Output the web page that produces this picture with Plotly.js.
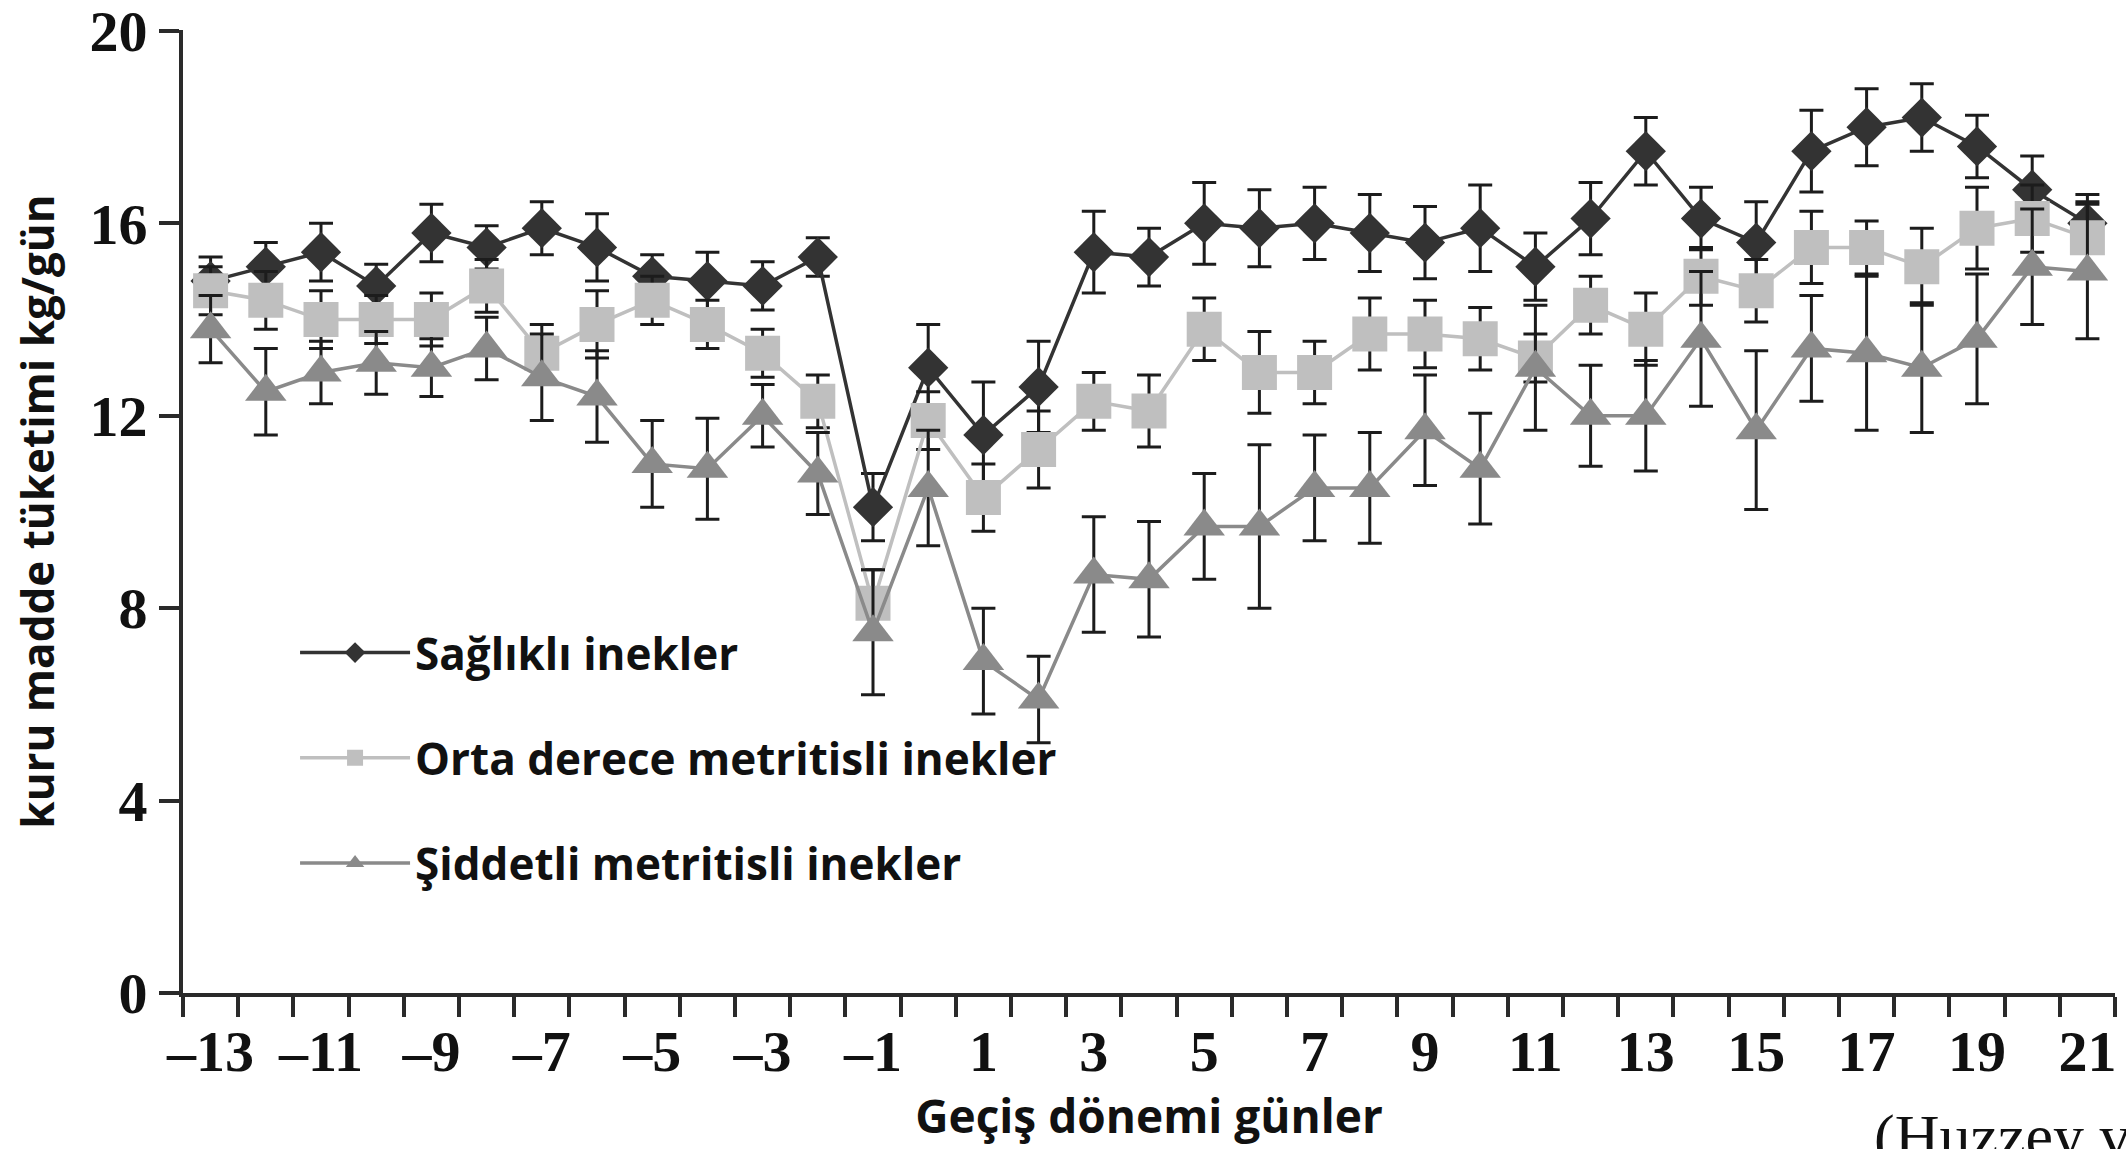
<!DOCTYPE html>
<html>
<head>
<meta charset="utf-8">
<script src="https://cdn.plot.ly/plotly-3.0.1.min.js"></script>
<style>
html,body{margin:0;padding:0;background:#ffffff;}
#chart{width:2126px;height:1149px;}
</style>
</head>
<body>
<div id="chart"></div>
<script>
// Geçiş dönemi günleri (days relative to calving)
const days = [-13,-12,-11,-10,-9,-8,-7,-6,-5,-4,-3,-2,-1,0,1,2,3,4,5,6,7,8,9,10,11,12,13,14,15,16,17,18,19,20,21];

// Sağlıklı inekler (mean, SE)
const healthy    = [14.8,15.1,15.4,14.7,15.8,15.5,15.9,15.5,14.9,14.8,14.7,15.3,10.1,13.0,11.6,12.6,15.4,15.3,16.0,15.9,16.0,15.8,15.6,15.9,15.1,16.1,17.5,16.1,15.6,17.5,18.0,18.2,17.6,16.7,16.0];
const healthyErr = [0.5,0.5,0.6,0.45,0.6,0.45,0.55,0.7,0.45,0.6,0.5,0.4,0.7,0.9,1.1,0.95,0.85,0.6,0.85,0.8,0.75,0.8,0.75,0.9,0.7,0.75,0.7,0.65,0.85,0.85,0.8,0.7,0.65,0.7,0.6];

// Orta derece metritisli inekler
const moderate    = [14.6,14.4,14.0,14.0,14.0,14.7,13.3,13.9,14.4,13.9,13.3,12.3,8.1,11.9,10.3,11.3,12.3,12.1,13.8,12.9,12.9,13.7,13.7,13.6,13.2,14.3,13.8,14.9,14.6,15.5,15.5,15.1,15.9,16.1,15.7];
const moderateErr = [0.5,0.6,0.6,0.5,0.55,0.55,0.6,0.7,0.5,0.5,0.5,0.55,0.7,0.6,0.7,0.8,0.6,0.75,0.65,0.85,0.65,0.75,0.7,0.65,0.5,0.6,0.75,0.6,0.65,0.75,0.55,0.8,0.85,0.7,0.75];

// Şiddetli metritisli inekler
const severe    = [13.8,12.5,12.9,13.1,13.0,13.4,12.8,12.4,11.0,10.9,12.0,10.8,7.5,10.5,6.9,6.1,8.7,8.6,9.7,9.7,10.5,10.5,11.7,10.9,13.0,12.0,12.0,13.6,11.7,13.4,13.3,13.0,13.6,15.1,15.0];
const severeErr = [0.7,0.9,0.65,0.65,0.6,0.65,0.9,0.95,0.9,1.05,0.65,0.85,1.3,1.2,1.1,0.9,1.2,1.2,1.1,1.7,1.1,1.15,1.15,1.15,1.3,1.05,1.15,1.4,1.65,1.1,1.6,1.35,1.35,1.2,1.4];

const seriesNames = ['Sağlıklı inekler','Orta derece metritisli inekler','Şiddetli metritisli inekler'];

const xTickDays   = [-13,-11,-9,-7,-5,-3,-1,1,3,5,7,9,11,13,15,17,19,21];
const xTickLabels = ['\u201313','\u201311','\u20139','\u20137','\u20135','\u20133','\u20131','1','3','5','7','9','11','13','15','17','19','21'];
const yTicks = [0,4,8,12,16,20];
const yTickLabels = ['0','4','8','12','16','20'];

const xTitle = 'Geçiş dönemi günler';
const yTitle = 'kuru madde tüketimi kg/gün';
const sourceNote = '(Huzzey ve ark., 2007)';

function makeTrace(name, yVals, errVals, color, symbol, size, group) {
  return {
    type: 'scatter',
    mode: 'lines+markers',
    name: name,
    legendgroup: group,
    x: days,
    y: yVals,
    line: {color: color, width: 3.5},
    marker: {symbol: symbol, size: size, color: color, line: {width: 0}},
    error_y: {type: 'data', array: errVals, visible: true, color: '#1c1c1c', thickness: 3, width: 12},
    cliponaxis: false,
    hoverinfo: 'skip'
  };
}

const traces = [
  makeTrace(seriesNames[0], healthy, healthyErr, '#333333', 'diamond', 31, 'g1'),
  makeTrace(seriesNames[1], moderate, moderateErr, '#bfbfbf', 'square', 35, 'g2'),
  makeTrace(seriesNames[2], severe, severeErr, '#8a8a8a', 'triangle-up', 36, 'g3')
];

const axisColor = '#2a2a2a';
const tickFont = {family: 'Liberation Serif', size: 58, color: '#111111', weight: 700};
const titleFont = {family: 'Open Sans', size: 46, color: '#111111', weight: 700};

const layout = {
  width: 2126,
  height: 1149,
  margin: {l: 183, r: 11, t: 30, b: 156},
  paper_bgcolor: '#ffffff',
  plot_bgcolor: '#ffffff',
  showlegend: true,
  legend: {
    x: 0.058, y: 0.39, xanchor: 'left', yanchor: 'top',
    font: {family: 'Open Sans', size: 44, color: '#111111', weight: 700},
    itemwidth: 110,
    tracegroupgap: 45,
    traceorder: 'grouped',
    bgcolor: 'rgba(0,0,0,0)'
  },
  xaxis: {
    range: [-13.5, 21.5],
    tickmode: 'array',
    tickvals: xTickDays,
    ticktext: xTickLabels,
    ticks: '',
    ticklabelstandoff: 4,
    ticklabeloverflow: 'allow',
    showline: true, linecolor: axisColor, linewidth: 4,
    showgrid: false, zeroline: false,
    tickfont: tickFont,
    minor: {tickmode: 'linear', tick0: -13.5, dtick: 1, ticks: 'outside', ticklen: 20, tickwidth: 4, tickcolor: axisColor, showgrid: false},
    title: {text: xTitle, font: titleFont, standoff: 18},
    automargin: false
  },
  yaxis: {
    range: [0, 20.02],
    tickmode: 'array',
    tickvals: yTicks,
    ticktext: yTickLabels,
    ticks: 'outside', ticklen: 20, tickwidth: 4, tickcolor: axisColor,
    ticklabeloverflow: 'allow',
    showline: true, linecolor: axisColor, linewidth: 4,
    showgrid: false, zeroline: false,
    tickfont: tickFont,
    title: {text: yTitle, font: {family: 'Open Sans', size: 44, color: '#111111', weight: 700}, standoff: 22},
    automargin: false
  },
  annotations: [{
    text: sourceNote,
    xref: 'paper', yref: 'paper',
    x: (1872 - 183) / 1932, y: (993 - 1100) / 963,
    xanchor: 'left', yanchor: 'top',
    showarrow: false,
    font: {family: 'Liberation Serif', size: 62, color: '#111111'}
  }]
};

Plotly.newPlot('chart', traces, layout, {staticPlot: true, displayModeBar: false});
</script>
</body>
</html>
